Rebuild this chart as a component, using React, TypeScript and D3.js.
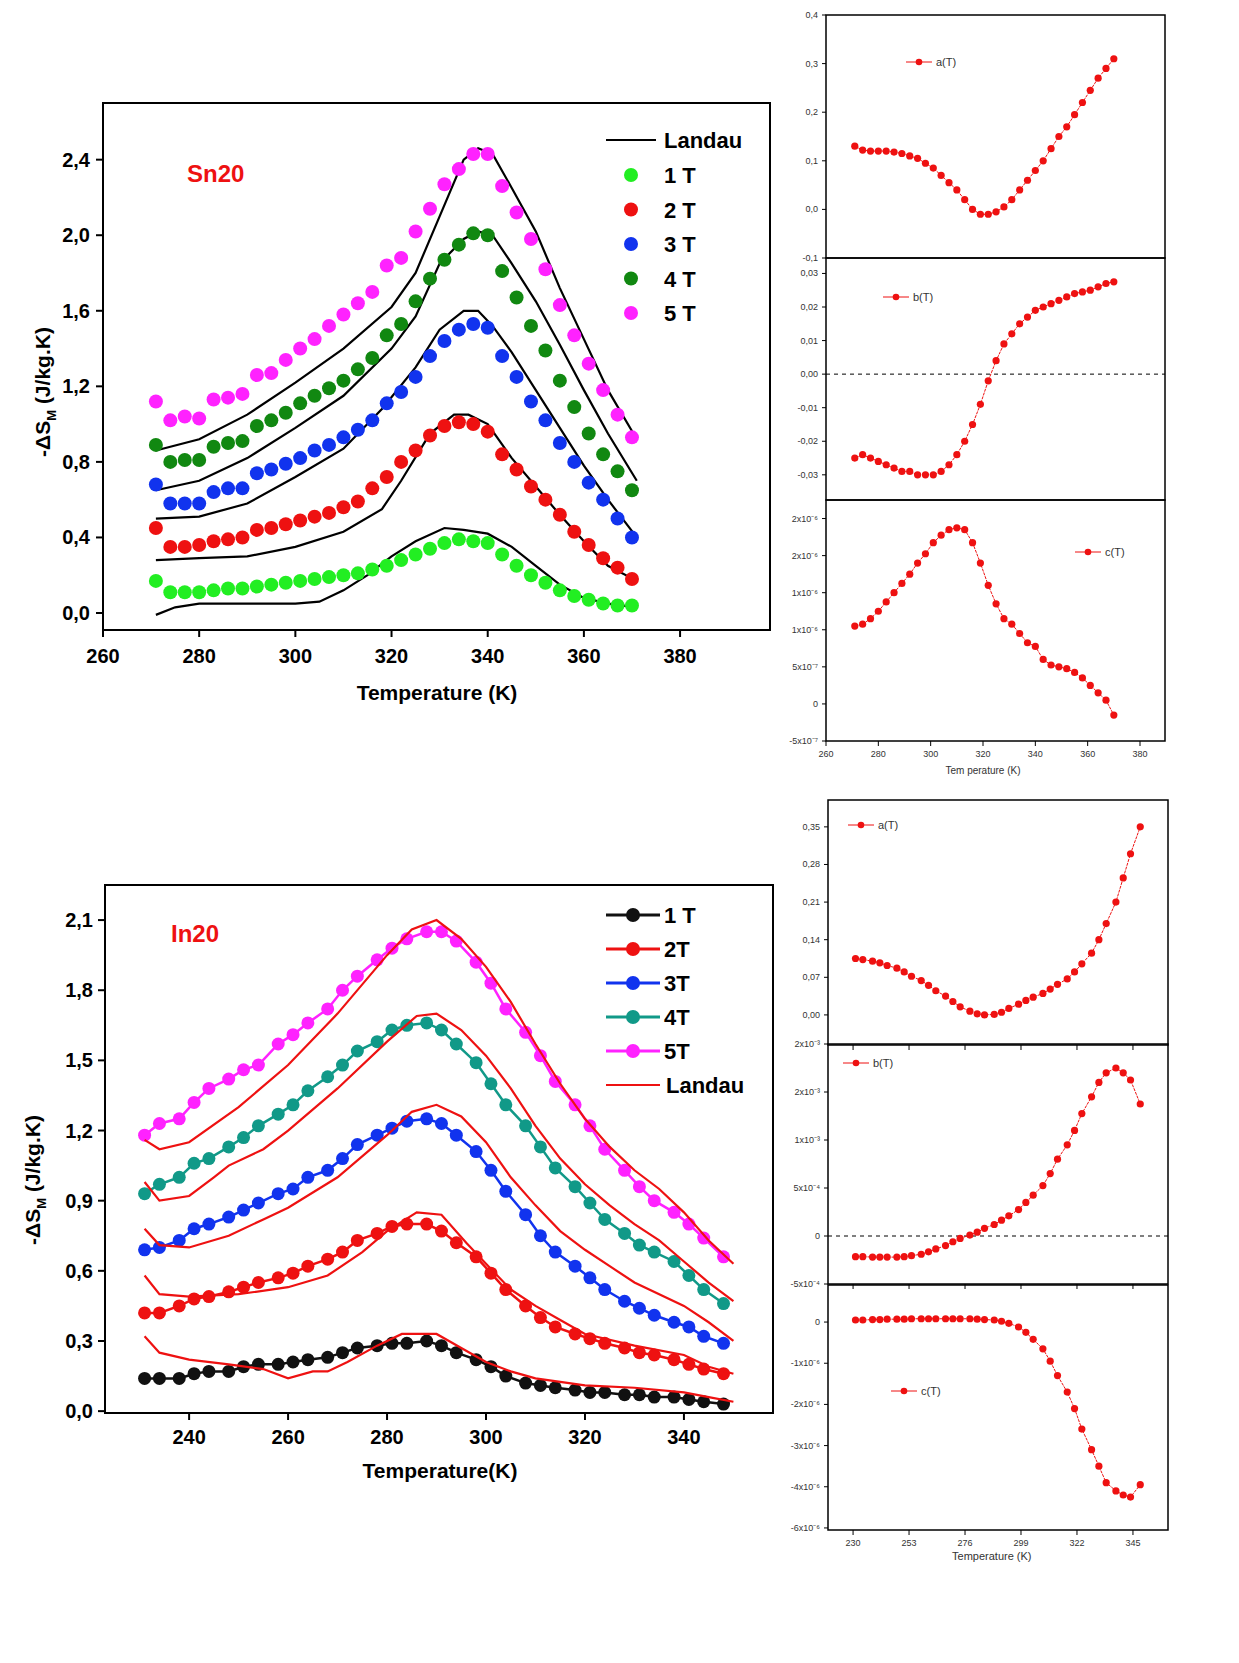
import * as d3 from 'd3';

// ---- Sn20 (top) ----
const snT = [271, 274, 277, 280, 283, 286, 289, 292, 295, 298, 301, 304, 307, 310, 313, 316, 319, 322, 325, 328, 331, 334, 337, 340, 343, 346, 349, 352, 355, 358, 361, 364, 367, 370];
const sn1T = [0.17, 0.11, 0.11, 0.11, 0.12, 0.13, 0.13, 0.14, 0.15, 0.16, 0.17, 0.18, 0.19, 0.2, 0.21, 0.23, 0.25, 0.28, 0.31, 0.34, 0.37, 0.39, 0.38, 0.37, 0.31, 0.25, 0.2, 0.16, 0.12, 0.09, 0.07, 0.05, 0.04, 0.04];
const sn2T = [0.45, 0.35, 0.35, 0.36, 0.38, 0.39, 0.4, 0.44, 0.45, 0.47, 0.49, 0.51, 0.53, 0.56, 0.59, 0.66, 0.72, 0.8, 0.86, 0.94, 0.99, 1.01, 1.0, 0.96, 0.84, 0.76, 0.67, 0.6, 0.52, 0.43, 0.36, 0.29, 0.24, 0.18];
const sn3T = [0.68, 0.58, 0.58, 0.58, 0.64, 0.66, 0.66, 0.74, 0.76, 0.79, 0.82, 0.86, 0.89, 0.93, 0.97, 1.02, 1.11, 1.17, 1.25, 1.36, 1.44, 1.5, 1.53, 1.51, 1.36, 1.25, 1.12, 1.02, 0.9, 0.8, 0.69, 0.6, 0.5, 0.4];
const sn4T = [0.89, 0.8, 0.81, 0.81, 0.88, 0.9, 0.91, 0.99, 1.02, 1.06, 1.11, 1.15, 1.19, 1.23, 1.29, 1.35, 1.47, 1.53, 1.65, 1.77, 1.87, 1.95, 2.01, 2.0, 1.81, 1.67, 1.52, 1.39, 1.23, 1.09, 0.95, 0.84, 0.75, 0.65];
const sn5T = [1.12, 1.02, 1.04, 1.03, 1.13, 1.14, 1.16, 1.26, 1.27, 1.34, 1.4, 1.45, 1.52, 1.58, 1.64, 1.7, 1.84, 1.88, 2.02, 2.14, 2.27, 2.35, 2.43, 2.43, 2.26, 2.12, 1.98, 1.82, 1.63, 1.47, 1.32, 1.18, 1.05, 0.93];
const snLandau: [number, number][][] = [
  [[271, -0.01], [275, 0.03], [280, 0.05], [290, 0.05], [300, 0.05], [305, 0.06], [310, 0.12], [315, 0.2], [320, 0.3], [325, 0.38], [331, 0.45], [335, 0.44], [340, 0.42], [345, 0.35], [350, 0.25], [355, 0.15], [360, 0.08], [365, 0.05], [371, 0.03]],
  [[271, 0.28], [280, 0.29], [290, 0.3], [300, 0.35], [310, 0.43], [318, 0.55], [322, 0.7], [328, 0.95], [333, 1.05], [336, 1.05], [340, 1.0], [345, 0.82], [350, 0.67], [355, 0.52], [360, 0.38], [365, 0.25], [371, 0.17]],
  [[271, 0.5], [280, 0.51], [290, 0.58], [300, 0.72], [310, 0.87], [318, 1.08], [325, 1.3], [330, 1.5], [335, 1.6], [338, 1.6], [341, 1.52], [345, 1.38], [350, 1.18], [355, 0.98], [360, 0.78], [365, 0.6], [371, 0.4]],
  [[271, 0.65], [280, 0.7], [290, 0.82], [300, 0.98], [310, 1.15], [320, 1.4], [325, 1.57], [330, 1.85], [335, 1.98], [338, 2.02], [341, 2.0], [345, 1.85], [350, 1.65], [355, 1.42], [360, 1.18], [365, 0.95], [371, 0.7]],
  [[271, 0.86], [280, 0.92], [290, 1.05], [300, 1.22], [310, 1.4], [320, 1.62], [325, 1.8], [330, 2.1], [335, 2.4], [338, 2.46], [341, 2.43], [345, 2.25], [350, 2.02], [355, 1.72], [360, 1.45], [365, 1.18], [371, 0.92]],
];
const snA = [0.13, 0.122, 0.12, 0.12, 0.12, 0.118, 0.115, 0.11, 0.105, 0.095, 0.085, 0.07, 0.055, 0.04, 0.02, 0.0, -0.01, -0.01, -0.005, 0.005, 0.02, 0.04, 0.06, 0.08, 0.1, 0.125, 0.15, 0.17, 0.195, 0.22, 0.245, 0.27, 0.29, 0.31];
const snB = [-0.025, -0.024, -0.025, -0.026, -0.027, -0.028, -0.029, -0.029, -0.03, -0.03, -0.03, -0.029, -0.027, -0.024, -0.02, -0.015, -0.009, -0.002, 0.004, 0.009, 0.012, 0.015, 0.017, 0.019, 0.02, 0.021, 0.022, 0.023, 0.024, 0.0245, 0.025, 0.026, 0.027, 0.0275];
const snC = [2.1, 2.15, 2.3, 2.5, 2.75, 3.0, 3.25, 3.5, 3.8, 4.05, 4.35, 4.55, 4.7, 4.75, 4.7, 4.35, 3.8, 3.2, 2.7, 2.3, 2.15, 1.9, 1.65, 1.55, 1.2, 1.05, 1.0, 0.95, 0.85, 0.7, 0.5, 0.3, 0.1, -0.3];

// ---- In20 (bottom) ----
const inT = [231, 234, 238, 241, 244, 248, 251, 254, 258, 261, 264, 268, 271, 274, 278, 281, 284, 288, 291, 294, 298, 301, 304, 308, 311, 314, 318, 321, 324, 328, 331, 334, 338, 341, 344, 348];
const in1T = [0.14, 0.14, 0.14, 0.16, 0.17, 0.17, 0.19, 0.2, 0.2, 0.21, 0.22, 0.23, 0.25, 0.27, 0.28, 0.29, 0.29, 0.3, 0.28, 0.25, 0.22, 0.19, 0.15, 0.12, 0.11, 0.1, 0.09, 0.08, 0.08, 0.07, 0.07, 0.06, 0.06, 0.05, 0.04, 0.03];
const in2T = [0.42, 0.42, 0.45, 0.48, 0.49, 0.51, 0.53, 0.55, 0.57, 0.59, 0.62, 0.65, 0.68, 0.73, 0.76, 0.79, 0.8, 0.8, 0.77, 0.72, 0.66, 0.59, 0.52, 0.45, 0.4, 0.36, 0.33, 0.31, 0.29, 0.27, 0.25, 0.24, 0.22, 0.2, 0.18, 0.16];
const in3T = [0.69, 0.7, 0.73, 0.78, 0.8, 0.83, 0.86, 0.89, 0.93, 0.95, 1.0, 1.03, 1.08, 1.14, 1.18, 1.21, 1.24, 1.25, 1.23, 1.18, 1.11, 1.03, 0.94, 0.84, 0.75, 0.68, 0.62, 0.57, 0.52, 0.47, 0.44, 0.41, 0.38, 0.36, 0.32, 0.29];
const in4T = [0.93, 0.97, 1.0, 1.06, 1.08, 1.13, 1.17, 1.22, 1.27, 1.31, 1.37, 1.43, 1.48, 1.54, 1.58, 1.63, 1.65, 1.66, 1.63, 1.57, 1.49, 1.4, 1.31, 1.22, 1.13, 1.04, 0.96, 0.89, 0.82, 0.76, 0.71, 0.68, 0.64, 0.58, 0.52, 0.46];
const in5T = [1.18, 1.23, 1.25, 1.32, 1.38, 1.42, 1.46, 1.48, 1.57, 1.61, 1.66, 1.72, 1.8, 1.86, 1.93, 1.98, 2.02, 2.05, 2.05, 2.01, 1.92, 1.83, 1.72, 1.62, 1.52, 1.41, 1.31, 1.22, 1.12, 1.03, 0.96, 0.9, 0.85, 0.8, 0.74, 0.66];
const inLandau: [number, number][][] = [
  [[231, 0.32], [234, 0.25], [240, 0.22], [248, 0.2], [255, 0.18], [260, 0.14], [265, 0.17], [268, 0.17], [272, 0.21], [278, 0.28], [283, 0.33], [290, 0.33], [295, 0.27], [300, 0.21], [305, 0.17], [310, 0.14], [320, 0.11], [330, 0.1], [340, 0.08], [345, 0.06], [350, 0.04]],
  [[231, 0.58], [234, 0.5], [240, 0.49], [250, 0.5], [260, 0.53], [268, 0.58], [275, 0.68], [280, 0.77], [286, 0.85], [291, 0.84], [296, 0.72], [300, 0.63], [305, 0.52], [310, 0.45], [315, 0.39], [320, 0.33], [330, 0.28], [340, 0.24], [345, 0.19], [350, 0.16]],
  [[231, 0.78], [234, 0.71], [240, 0.7], [248, 0.75], [255, 0.82], [260, 0.87], [270, 1.0], [280, 1.18], [285, 1.28], [290, 1.31], [295, 1.26], [300, 1.15], [305, 1.0], [310, 0.88], [315, 0.77], [320, 0.69], [325, 0.62], [330, 0.55], [340, 0.45], [345, 0.38], [350, 0.3]],
  [[231, 0.98], [234, 0.9], [240, 0.92], [245, 1.0], [248, 1.05], [255, 1.12], [260, 1.2], [270, 1.38], [280, 1.58], [286, 1.69], [290, 1.7], [295, 1.63], [300, 1.52], [305, 1.38], [310, 1.22], [315, 1.08], [320, 0.97], [325, 0.88], [330, 0.8], [335, 0.73], [340, 0.64], [345, 0.55], [350, 0.47]],
  [[231, 1.16], [234, 1.12], [240, 1.15], [250, 1.3], [260, 1.48], [270, 1.7], [280, 1.95], [285, 2.06], [290, 2.1], [295, 2.02], [300, 1.9], [305, 1.75], [310, 1.57], [315, 1.4], [320, 1.25], [325, 1.13], [330, 1.03], [335, 0.95], [340, 0.85], [345, 0.73], [350, 0.63]],
];
const inA = [0.105, 0.103, 0.1, 0.097, 0.092, 0.087, 0.08, 0.072, 0.064, 0.055, 0.045, 0.035, 0.025, 0.015, 0.007, 0.002, 0.0, 0.001, 0.005, 0.012, 0.02, 0.027, 0.033, 0.04, 0.048, 0.057, 0.067, 0.08, 0.095, 0.115, 0.14, 0.17, 0.21, 0.255, 0.3, 0.35];
const inB = [-0.43, -0.43, -0.44, -0.44, -0.44, -0.44, -0.43, -0.41, -0.38, -0.33, -0.27, -0.2, -0.12, -0.05, 0.02, 0.08, 0.16, 0.24, 0.33, 0.42, 0.55, 0.7, 0.85, 1.05, 1.3, 1.6, 1.9, 2.2, 2.55, 2.9, 3.2, 3.4, 3.5, 3.4, 3.25, 2.75];
const inC = [0.05, 0.05, 0.06, 0.06, 0.07, 0.07, 0.07, 0.08, 0.08, 0.08, 0.08, 0.08, 0.08, 0.08, 0.08, 0.07, 0.06, 0.05, 0.02, -0.03, -0.12, -0.25, -0.42, -0.65, -0.95, -1.3, -1.7, -2.1, -2.6, -3.1, -3.5, -3.9, -4.1, -4.2, -4.25, -3.95];

const snColors = ['#22ee22', '#ee1111', '#1133ee', '#118811', '#ff22ff'];
const inColors = ['#111111', '#ee1111', '#1133ee', '#119988', '#ff22ff'];
const labels = ['1 T', '2 T', '3 T', '4 T', '5 T'];
const inLabels = ['1 T', '2T', '3T', '4T', '5T'];

const F = '"Liberation Sans", Arial, sans-serif';

type Tick = { v: number; label: string };

function Frame({ x0, x1, y0, y1, sw = 2 }: { x0: number; x1: number; y0: number; y1: number; sw?: number }) {
  return <rect x={x0} y={y0} width={x1 - x0} height={y1 - y0} fill="none" stroke="#000" strokeWidth={sw} />;
}

function SmallPanel({ x, y, ticks, vals, temps, legend, legendPos, zeroLine, xTicks, showX }: {
  x: d3.ScaleLinear<number, number>; y: d3.ScaleLinear<number, number>; ticks: Tick[]; vals: number[]; temps: number[];
  legend: string; legendPos: [number, number]; zeroLine?: boolean; xTicks?: number[]; showX?: boolean;
}) {
  const [x0, x1] = x.range();
  const [y1, y0] = y.range();
  const line = d3.line<number>().x((_, i) => x(temps[i])).y((d) => y(d));
  return (
    <g>
      <Frame x0={x0} x1={x1} y0={y0} y1={y1} sw={1.5} />
      {ticks.map((t, i) => (
        <g key={i}>
          <line x1={x0 - 4} x2={x0} y1={y(t.v)} y2={y(t.v)} stroke="#000" />
          <text x={x0 - 8} y={y(t.v) + 3} fontSize={9} textAnchor="end" fill="#333" fontFamily={F}>{t.label}</text>
        </g>
      ))}
      {zeroLine && <line x1={x0} x2={x1} y1={y(0)} y2={y(0)} stroke="#000" strokeDasharray="4,4" />}
      {xTicks && xTicks.map((t) => (
        <g key={t}>
          <line x1={x(t)} x2={x(t)} y1={y1} y2={y1 + 5} stroke="#000" />
          {showX && <text x={x(t)} y={y1 + 16} fontSize={9} textAnchor="middle" fill="#333" fontFamily={F}>{t}</text>}
        </g>
      ))}
      <path d={line(vals) || ''} fill="none" stroke="#ee1111" strokeWidth={1} strokeDasharray="3,1" />
      {vals.map((v, i) => <circle key={i} cx={x(temps[i])} cy={y(v)} r={3.6} fill="#ee1111" />)}
      <line x1={legendPos[0]} x2={legendPos[0] + 26} y1={legendPos[1]} y2={legendPos[1]} stroke="#ee1111" />
      <circle cx={legendPos[0] + 13} cy={legendPos[1]} r={3.3} fill="#ee1111" />
      <text x={legendPos[0] + 30} y={legendPos[1] + 4} fontSize={11} fill="#333" fontFamily={F}>{legend}</text>
    </g>
  );
}

export default function App() {
  // top main
  const sx = d3.scaleLinear().domain([260, 398.7]).range([103, 770]);
  const sy = d3.scaleLinear().domain([-0.09, 2.7]).range([630, 103]);
  const snLine = d3.line<[number, number]>().x((d) => sx(d[0])).y((d) => sy(d[1])).curve(d3.curveLinear);
  const snSeries = [sn1T, sn2T, sn3T, sn4T, sn5T];
  // bottom main
  const bx = d3.scaleLinear().domain([223, 358]).range([105, 773]);
  const by = d3.scaleLinear().domain([-0.008, 2.25]).range([1413, 885]);
  const inLine = d3.line<[number, number]>().x((d) => bx(d[0])).y((d) => by(d[1]));
  const inSeries = [in1T, in2T, in3T, in4T, in5T];
  const inPath = d3.line<number>().x((_, i) => bx(inT[i])).y((d) => by(d));

  // top right
  const trx = d3.scaleLinear().domain([260, 380]).range([826, 1140]);
  const trxFull = d3.scaleLinear().domain([260, 380 + 25 / 2.617]).range([826, 1165]);
  const trA = d3.scaleLinear().domain([-0.1, 0.4]).range([258, 15]);
  const trB = d3.scaleLinear().domain([-0.0375, 0.0346]).range([500, 258]);
  const trC = d3.scaleLinear().domain([-1.0, 5.5]).range([741, 500]);
  // bottom right
  const brx = d3.scaleLinear().domain([219.7, 359.4]).range([828, 1168]);
  const brA = d3.scaleLinear().domain([-0.056, 0.40]).range([1045, 800]);
  const brB = d3.scaleLinear().domain([-1, 4.0]).range([1284, 1044]);
  const brC = d3.scaleLinear().domain([-5.05, 0.9]).range([1530, 1285]);

  const mainTick = (n: number) => n.toFixed(1).replace('.', ',');

  return (
    <svg width={1239} height={1663} style={{ display: 'block', margin: '-8px' }}>
      <rect width={1239} height={1663} fill="#fff" />
      {/* ---------- Sn20 main ---------- */}
      <Frame x0={103} x1={770} y0={103} y1={630} />
      {[0, 0.4, 0.8, 1.2, 1.6, 2.0, 2.4].map((t) => (
        <g key={t}>
          <line x1={96} x2={103} y1={sy(t)} y2={sy(t)} stroke="#000" strokeWidth={2} />
          <text x={90} y={sy(t) + 7} fontSize={20} fontWeight="bold" textAnchor="end" fontFamily={F}>{mainTick(t)}</text>
        </g>
      ))}
      {[260, 280, 300, 320, 340, 360, 380].map((t) => (
        <g key={t}>
          <line x1={sx(t)} x2={sx(t)} y1={630} y2={637} stroke="#000" strokeWidth={2} />
          <text x={sx(t)} y={663} fontSize={20} fontWeight="bold" textAnchor="middle" fontFamily={F}>{t}</text>
        </g>
      ))}
      <text x={437} y={700} fontSize={21} fontWeight="bold" textAnchor="middle" fontFamily={F}>Temperature (K)</text>
      <text transform="translate(50,392) rotate(-90)" fontSize={21} fontWeight="bold" textAnchor="middle" fontFamily={F}>
        -ΔS<tspan fontSize={13} dy={6}>M</tspan><tspan dy={-6}> (J/kg.K)</tspan>
      </text>
      <text x={187} y={182} fontSize={24} fontWeight="bold" fill="#ee1111" fontFamily={F}>Sn20</text>
      {snLandau.map((d, i) => <path key={i} d={snLine(d) || ''} fill="none" stroke="#000" strokeWidth={2.2} />)}
      {snSeries.map((s, k) => s.map((v, i) => (
        <circle key={`${k}-${i}`} cx={sx(snT[i])} cy={sy(v)} r={7} fill={snColors[k]} />
      )))}
      <line x1={606} x2={656} y1={140} y2={140} stroke="#000" strokeWidth={2.2} />
      <text x={664} y={148} fontSize={22} fontWeight="bold" fontFamily={F}>Landau</text>
      {labels.map((l, k) => (
        <g key={l}>
          <circle cx={631} cy={175 + 34.5 * k} r={7} fill={snColors[k]} />
          <text x={664} y={183 + 34.5 * k} fontSize={22} fontWeight="bold" fontFamily={F}>{l}</text>
        </g>
      ))}

      {/* ---------- Sn20 right ---------- */}
      <SmallPanel x={trxFull} y={trA} temps={snT} vals={snA} legend="a(T)" legendPos={[906, 62]}
        ticks={[0.4, 0.3, 0.2, 0.1, 0.0, -0.1].map((v) => ({ v, label: v.toFixed(1).replace('.', ',') }))} />
      <SmallPanel x={trxFull} y={trB} temps={snT} vals={snB} legend="b(T)" legendPos={[883, 297]} zeroLine
        ticks={[0.03, 0.02, 0.01, 0, -0.01, -0.02, -0.03].map((v) => ({ v, label: v.toFixed(2).replace('.', ',') }))} />
      <SmallPanel x={trxFull} y={trC} temps={snT} vals={snC} legend="c(T)" legendPos={[1075, 552]}
        xTicks={[260, 280, 300, 320, 340, 360, 380]} showX
        ticks={[[5, '2x10⁻⁶'], [4, '2x10⁻⁶'], [3, '1x10⁻⁶'], [2, '1x10⁻⁶'], [1, '5x10⁻⁷'], [0, '0'], [-1, '-5x10⁻⁷']].map(([v, l]) => ({ v: v as number, label: l as string }))} />
      <text x={trx(320)} y={774} fontSize={10} textAnchor="middle" fill="#333" fontFamily={F}>Tem perature (K)</text>

      {/* ---------- In20 main ---------- */}
      <Frame x0={105} x1={773} y0={885} y1={1413} />
      {[0, 0.3, 0.6, 0.9, 1.2, 1.5, 1.8, 2.1].map((t) => (
        <g key={t}>
          <line x1={98} x2={105} y1={by(t)} y2={by(t)} stroke="#000" strokeWidth={2} />
          <text x={93} y={by(t) + 7} fontSize={20} fontWeight="bold" textAnchor="end" fontFamily={F}>{mainTick(t)}</text>
        </g>
      ))}
      {[240, 260, 280, 300, 320, 340].map((t) => (
        <g key={t}>
          <line x1={bx(t)} x2={bx(t)} y1={1413} y2={1420} stroke="#000" strokeWidth={2} />
          <text x={bx(t)} y={1444} fontSize={20} fontWeight="bold" textAnchor="middle" fontFamily={F}>{t}</text>
        </g>
      ))}
      <text x={440} y={1478} fontSize={21} fontWeight="bold" textAnchor="middle" fontFamily={F}>Temperature(K)</text>
      <text transform="translate(40,1180) rotate(-90)" fontSize={21} fontWeight="bold" textAnchor="middle" fontFamily={F}>
        -ΔS<tspan fontSize={13} dy={6}>M</tspan><tspan dy={-6}> (J/kg.K)</tspan>
      </text>
      <text x={171} y={942} fontSize={24} fontWeight="bold" fill="#ee1111" fontFamily={F}>In20</text>
      {inSeries.map((s, k) => (
        <g key={k}>
          <path d={inPath(s) || ''} fill="none" stroke={inColors[k]} strokeWidth={2.5} />
          {s.map((v, i) => <circle key={i} cx={bx(inT[i])} cy={by(v)} r={6.5} fill={inColors[k]} />)}
        </g>
      ))}
      {inLandau.map((d, i) => <path key={i} d={inLine(d) || ''} fill="none" stroke="#ee1111" strokeWidth={2.2} />)}
      {inLabels.map((l, k) => (
        <g key={l}>
          <line x1={606} x2={660} y1={915 + 34 * k} y2={915 + 34 * k} stroke={inColors[k]} strokeWidth={3} />
          <circle cx={633} cy={915 + 34 * k} r={7} fill={inColors[k]} />
          <text x={664} y={923 + 34 * k} fontSize={22} fontWeight="bold" fontFamily={F}>{l}</text>
        </g>
      ))}
      <line x1={606} x2={660} y1={1085} y2={1085} stroke="#ee1111" strokeWidth={2.2} />
      <text x={666} y={1093} fontSize={22} fontWeight="bold" fontFamily={F}>Landau</text>

      {/* ---------- In20 right ---------- */}
      <SmallPanel x={brx} y={brA} temps={inT} vals={inA} legend="a(T)" legendPos={[848, 825]}
        xTicks={[230, 253, 276, 299, 322, 345]}
        ticks={[0.35, 0.28, 0.21, 0.14, 0.07, 0.0].map((v) => ({ v, label: v.toFixed(2).replace('.', ',') }))} />
      <SmallPanel x={brx} y={brB} temps={inT} vals={inB} legend="b(T)" legendPos={[843, 1063]} zeroLine
        xTicks={[230, 253, 276, 299, 322, 345]}
        ticks={[[4, '2x10⁻³'], [3, '2x10⁻³'], [2, '1x10⁻³'], [1, '5x10⁻⁴'], [0, '0'], [-1, '-5x10⁻⁴']].map(([v, l]) => ({ v: v as number, label: l as string }))} />
      <SmallPanel x={brx} y={brC} temps={inT} vals={inC} legend="c(T)" legendPos={[891, 1391]}
        xTicks={[230, 253, 276, 299, 322, 345]} showX
        ticks={[[0, '0'], [-1, '-1x10⁻⁶'], [-2, '-2x10⁻⁶'], [-3, '-3x10⁻⁶'], [-4, '-4x10⁻⁶'], [-5, '-6x10⁻⁶']].map(([v, l]) => ({ v: v as number, label: l as string }))} />
      <text x={brx(287)} y={1560} fontSize={11} textAnchor="middle" fill="#333" fontFamily={F}>Temperature (K)</text>
    </svg>
  );
}
